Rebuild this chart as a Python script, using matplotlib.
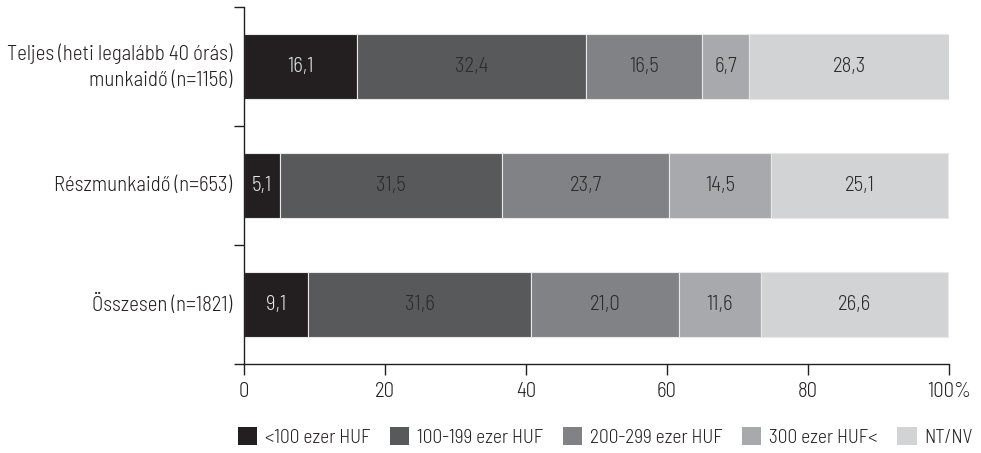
import matplotlib
matplotlib.use("Agg")
import matplotlib.pyplot as plt
import matplotlib.patches as mpatches

# Data
categories = ["Teljes (heti legalább 40 órás)\nmunkaidő (n=1156)",
              "Részmunkaidő (n=653)",
              "Összesen (n=1821)"]
series_names = ["<100 ezer HUF", "100-199 ezer HUF", "200-299 ezer HUF",
                "300 ezer HUF<", "NT/NV"]
values = [
    [16.1, 5.1, 9.1],
    [32.4, 31.5, 31.6],
    [16.5, 23.7, 21.0],
    [6.7, 14.5, 11.6],
    [28.3, 25.1, 26.6],
]
colors = ["#231f20", "#58595b", "#808285", "#a7a9ac", "#d1d3d4"]
label_colors = ["#e6e6e6", "#2b2b2b", "#2b2b2b", "#2b2b2b", "#2b2b2b"]
xticks = [0, 20, 40, 60, 80, 100]
xticklabels = ["0", "20", "40", "60", "80", "100%"]

plt.rcParams["font.family"] = ["Barlow Semi Condensed", "DejaVu Sans"]
plt.rcParams["font.weight"] = 300
text_color = "#231f20"
fs = 15

fig = plt.figure(figsize=(9.81, 4.53), dpi=100)
ax = fig.add_axes([0.2487, 0.1965, 0.9674 - 0.2487, 0.9845 - 0.1965])

ypos = list(range(len(categories)))
left = [0.0] * len(categories)
for name, vals, col, tcol in zip(series_names, values, colors, label_colors):
    ax.barh(ypos, vals, left=left, height=0.55, color=col,
            edgecolor="#e8e8e8", linewidth=0.8, label=name)
    for y, l, v in zip(ypos, left, vals):
        ax.text(l + v / 2, y, f"{v:.1f}".replace(".", ","), ha="center",
                va="center", fontsize=fs, color=tcol)
    left = [a + b for a, b in zip(left, vals)]

ax.set_xlim(0, 100)
ax.set_ylim(len(categories) - 0.5, -0.5)
ax.set_xticks(xticks)
ax.set_xticklabels(xticklabels, fontsize=fs, color=text_color)

# category ticks sit on the boundaries between bars
ax.set_yticks([i - 0.5 for i in range(len(categories) + 1)])
ax.set_yticklabels([])
ax.tick_params(axis="y", length=7, width=1, color=text_color)
ax.tick_params(axis="x", length=8, width=1, color=text_color, pad=5)
for i, cat in enumerate(categories):
    ax.text(-0.017, i, cat, transform=ax.get_yaxis_transform(), ha="right",
            va="center", fontsize=fs, color=text_color, linespacing=1.45)

for side in ["top", "right"]:
    ax.spines[side].set_visible(False)
for side in ["left", "bottom"]:
    ax.spines[side].set_color(text_color)
    ax.spines[side].set_linewidth(1)

handles = [mpatches.Patch(facecolor=c, label=n) for c, n in zip(colors, series_names)]
fig.legend(handles=handles, loc="center", bbox_to_anchor=(0.617, 0.035), ncol=5,
           frameon=False, fontsize=14, handlelength=1.0, handleheight=1.0,
           handletextpad=0.4, columnspacing=1.0, labelcolor=text_color)

fig.savefig("out.png", dpi=100)
